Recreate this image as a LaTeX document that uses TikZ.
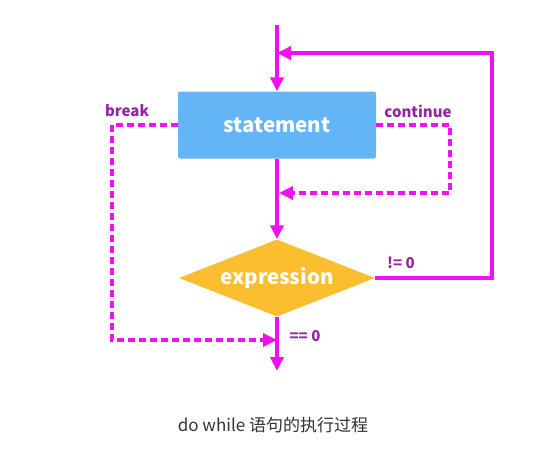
\documentclass[tikz,border=0pt]{standalone}
\usepackage{fontspec}
\setmainfont{Noto Sans CJK SC}
\usetikzlibrary{positioning, shapes.geometric, arrows.meta, calc}
\definecolor{flowpink}{RGB}{240,16,240}
\definecolor{boxblue}{RGB}{100,181,246}
\definecolor{boxamber}{RGB}{250,190,46}
\definecolor{tagpurple}{RGB}{145,38,160}
\definecolor{capgray}{RGB}{51,51,51}
\begin{document}
\begin{tikzpicture}[
    x=1pt, y=-1pt,
    % Styles
    stmtbox/.style={% For the statement block
        rectangle,
        rounded corners=2pt,
        fill=boxblue,
        minimum width=198pt,
        minimum height=67pt,
        text=white,
        font=\fontsize{20.5}{24}\selectfont\bfseries,
        },
    condbox/.style={% For the test diamond
        diamond,
        aspect=2.5,
        inner sep=0pt,
        fill=boxamber,
        minimum width=196pt,
        minimum height=77pt,
        text=white,
        font=\fontsize{20.5}{24}\selectfont\bfseries,
        },
    tag/.style={% For the edge labels
        text=tagpurple,
        font=\fontsize{15}{17}\selectfont\bfseries,
        },
    flow/.style={% Solid connectors
        draw=flowpink,
        line width=3.6pt,
        },
    dflow/.style={% Dashed connectors
        draw=flowpink,
        line width=3.4pt,
        dash pattern=on 7pt off 4pt,
        },
    tip/.style={-{Triangle[length=14pt,width=13pt]}},
    ]
\useasboundingbox (0,0) rectangle (546,460);
% Blocks
\node [stmtbox] (statement) at (277,125) {statement};
\node [condbox] (expression) at (277,278) {expression};
% Free ends and corners
\coordinate (start) at (277,25);
\coordinate (join) at (277,53);
\coordinate (loopTop) at (492,53);
\coordinate (finish) at (277,371);
\coordinate (contCorner) at (450,193);
\coordinate (contIn) at (279,193);
\coordinate (breakCorner) at (112,340);
\coordinate (breakIn) at (277,340);
% Main line
\draw [flow, tip] (start) -- (statement.north);
\draw [flow, tip] (statement.south) -- (expression.north);
\draw [flow, tip] (expression.south) -- (finish);
% Loop back when true
\draw [flow, tip] (expression.east) -| (loopTop) -- (join);
% continue and break
\draw [dflow, tip] (statement.east) -| (contCorner) -- (contIn);
\draw [dflow, tip] (statement.west) -| (breakCorner) -- (breakIn);
% Labels
\node [tag] (tBreak) at (127,111) {break};
\node [tag] (tCont) at (418,111) {continue};
\node [tag] (tTrue) at (401,263) {!= 0};
\node [tag] (tFalse) at (305,336) {== 0};
\node [text=capgray, font=\fontsize{17}{20}\selectfont] (caption) at (273,425) {do while 语句的执行过程};
\end{tikzpicture}
\end{document}
